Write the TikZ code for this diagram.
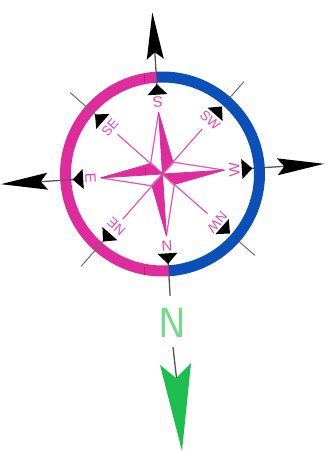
\documentclass[tikz,border=0pt]{standalone}
\usepackage{fontspec}
\setmainfont{Liberation Sans}
\definecolor{rosem}{HTML}{DE2C9C}
\definecolor{ringb}{HTML}{0B50B8}
\definecolor{tickm}{HTML}{B8207E}
\definecolor{greena}{HTML}{1DBE4E}
\definecolor{greenn}{HTML}{74D98C}
\definecolor{axisg}{HTML}{555555}
\tikzset{
  ringarc/.style={line width=11pt,line cap=butt},
  axisline/.style={axisg,line width=1.3pt},
  diagline/.style={axisg!85,line width=1pt},
  rayline/.style={rosem!80,line width=1.2pt},
  rosefill/.style={fill=rosem,draw=rosem,line width=0.8pt,line join=round},
  roseline/.style={draw=rosem!80,line width=1.2pt,line join=round},
  dirlabel/.style={text=rosem!85,font=\fontsize{15}{16}\selectfont,inner sep=0pt,transform shape},
  diaglabel/.style={dirlabel,font=\fontsize{13.5}{14}\selectfont}
}
\begin{document}
\begin{tikzpicture}[x=1pt,y=1pt]
\useasboundingbox (0,0) rectangle (330,451);
\fill[white] (0,0) rectangle (330,451);
\begin{scope}[shift={(162.5,277)},rotate=3.6]
  % diagonal lines
  \foreach \a in {45,-45} {\draw[diagline] (\a:101) -- (\a:123);}
  % outward axes
  \foreach \a in {90,0,180,-90} {\draw[axisline] (\a:85) -- (\a:122);}
  % ring
  \draw[ringarc,ringb] (90:97) arc[start angle=90,end angle=-90,radius=97];
  \draw[ringarc,rosem] (90:97) arc[start angle=90,end angle=270,radius=97];
  \foreach \a in {135,-135} {\draw[diagline] (\a:86) -- (\a:123);}
  \draw[axisline,line width=0.9pt] (180:85) -- (180:102);
  % outer arrows
  \foreach \a in {90,0,180} {
    \begin{scope}[rotate=\a]
      \fill[black] (162,0) -- (115,8.5) -- (122,0) -- (115,-8.5) -- cycle;
    \end{scope}
  }
  % inner triangles
  \foreach \a in {90,45,0,-45,-90,-135,180,135} {
    \begin{scope}[rotate=\a]
      \fill[black] (90,0) -- (79.5,10) -- (79.5,-10) -- cycle;
    \end{scope}
  }
  % rays
  \foreach \a in {45,-45,-135,135} {\draw[rayline] (\a:15) -- (\a:60);}
  % rose
  \foreach \a in {90,0,-90,180} {
    \begin{scope}[rotate=\a]
      \draw[roseline] (62,0) -- (12,11) -- (0,0);
      \fill[rosefill] (62,0) -- (12,-11) -- (0,0) -- cycle;
    \end{scope}
  }
  % labels
  \node[dirlabel,rotate=180]  (lS)  at (90:72)   {S};
  \node[diaglabel,rotate=-45] (lSW) at (45:72)   {SW};
  \node[dirlabel,rotate=90]   (lW)  at (0:72)    {W};
  \node[diaglabel,rotate=225] (lNW) at (-45:73)  {NW};
  \node[dirlabel,rotate=0]    (lN)  at (-90:72)  {N};
  \node[diaglabel,rotate=135] (lNE) at (-135:70) {NE};
  \node[dirlabel,rotate=-90]  (lE)  at (180:72)  {E};
  \node[diaglabel,rotate=45]  (lSE) at (135:70)  {SE};
\end{scope}
% small darker marks
\draw[tickm,line width=0.8pt] (144,376) -- (144,368);
\draw[tickm,line width=0.8pt] (144,184) -- (144,176);
\draw[tickm,line width=0.8pt] (145,283) -- (145,276);
% north marker
\node[text=greenn,font=\sffamily\fontsize{42}{42}\selectfont,inner sep=0pt] (north) at (172.5,128.5) {N};
\fill[greena] (176,73) -- (160,86) -- (182,0) -- (191,88) -- cycle;
\draw[axisline] (173,104) -- (176.5,73);
\end{tikzpicture}
\end{document}
